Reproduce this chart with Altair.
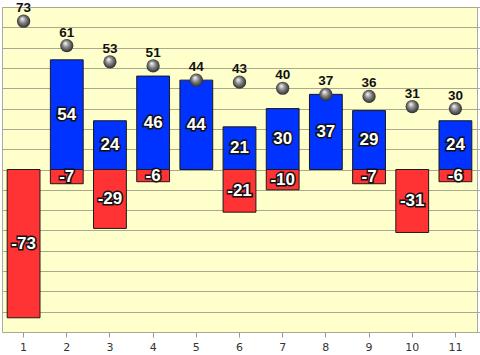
import altair as alt
import pandas as pd

categories = [str(i) for i in range(1, 12)]
positive = [0, 54, 24, 46, 44, 21, 30, 37, 29, 0, 24]
negative = [-73, -7, -29, -6, 0, -21, -10, 0, -7, -31, -6]
totals = [73, 61, 53, 51, 44, 43, 40, 37, 36, 31, 30]

rows = []
for c, p, n in zip(categories, positive, negative):
    if p != 0:
        rows.append({"cat": c, "value": p, "series": "pos", "order": 1})
    if n != 0:
        rows.append({"cat": c, "value": n, "series": "neg", "order": 2})
bars_df = pd.DataFrame(rows)
tot_df = pd.DataFrame({"cat": categories, "total": totals})

xaxis = alt.Axis(labelAngle=0, labelFont="DejaVu Sans", labelFontSize=11,
                 labelColor="#333333", tickColor="#999999", tickSize=5,
                 domain=False, labelPadding=4, grid=False, title=None)
xscale = alt.Scale(paddingInner=0.24, paddingOuter=0.12)
x = alt.X("cat:O", sort=categories, title=None, scale=xscale, axis=xaxis)
yscale = alt.Scale(domain=[-80, 80], nice=False, zero=False)
yaxis = alt.Axis(orient="right", labels=False, title=None, values=list(range(-80, 81, 10)),
                 grid=True, gridColor="#aaa98e", gridWidth=1, tickColor="#aaaaaa", tickSize=3,
                 domain=False)


def Y(field, **kw):
    return alt.Y(field, scale=yscale, axis=yaxis, title=None, **kw)


base = alt.Chart(bars_df)

bars = base.mark_bar(stroke="#1a1a1a", strokeWidth=1).encode(
    x=x,
    y=Y("value:Q", stack="zero"),
    color=alt.Color("series:N", scale=alt.Scale(domain=["pos", "neg"], range=["#0033FF", "#FF3333"]), legend=None),
    order=alt.Order("order:Q"),
)

lab_base = base.transform_calculate(mid="datum.value / 2", txt="'' + datum.value")
lab_shadow = lab_base.mark_text(font="Liberation Sans", fontSize=17, fontWeight="bold",
                                fill="#111111", stroke="#111111", strokeWidth=3,
                                baseline="middle", align="center").encode(
    x=x, y=Y("mid:Q"), text="txt:N")
lab_text = lab_base.mark_text(font="Liberation Sans", fontSize=17, fontWeight="bold",
                              fill="white", baseline="middle", align="center").encode(
    x=x, y=Y("mid:Q"), text="txt:N")

grad = alt.RadialGradient(
    gradient="radial",
    stops=[alt.GradientStop(color="#ffffff", offset=0),
           alt.GradientStop(color="#8a8a8a", offset=0.45),
           alt.GradientStop(color="#202020", offset=1)],
    x1=0.38, y1=0.3, r1=0, x2=0.5, y2=0.5, r2=0.55)

spheres = alt.Chart(tot_df).mark_circle(size=175, fill=grad, opacity=1, strokeWidth=0).encode(
    x=x, y=Y("total:Q"))
sph_text = alt.Chart(tot_df).mark_text(font="Liberation Sans", fontSize=13.5, fontWeight="bold",
                                       color="#111111", dy=-9, baseline="alphabetic").encode(
    x=x, y=Y("total:Q"), text="total:Q")

chart = alt.layer(bars, lab_shadow, lab_text, spheres, sph_text).properties(
    width=475, height=325,
    autosize=alt.AutoSizeParams(type="none"),
    padding={"left": 2, "top": 7, "right": 3, "bottom": 23},
    background="white",
).configure_view(fill="#FFFFCC", stroke="#aaaaaa", strokeWidth=1)

chart.save("out.html", embed_options={"renderer": "svg", "actions": False})
